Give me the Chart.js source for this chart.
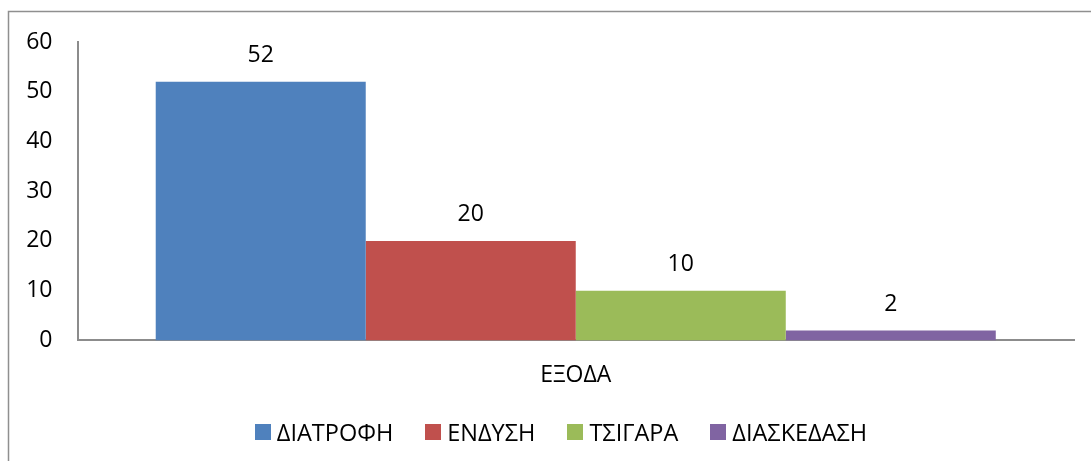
<!DOCTYPE html>
<html>
<head>
<meta charset="utf-8">
<script src="https://cdn.jsdelivr.net/npm/chart.js@4"></script>
<style>
  html, body { margin: 0; padding: 0; background: #fff; overflow: hidden; }
  #wrap { position: relative; width: 1091px; height: 461px; }
</style>
</head>
<body>
<div id="wrap"><canvas id="chart"></canvas></div>
<script>
const categories = ['ΕΞΟΔΑ'];
const seriesNames = ['ΔΙΑΤΡΟΦΗ', 'ΕΝΔΥΣΗ', 'ΤΣΙΓΑΡΑ', 'ΔΙΑΣΚΕΔΑΣΗ'];
const seriesValues = [[52], [20], [10], [2]];
const seriesColors = ['#4F81BD', '#C0504D', '#9BBB59', '#8064A2'];

const FONT = "'Open Sans', 'DejaVu Sans', sans-serif";
const wrap = document.getElementById('wrap');

// frame of the chart (only top and left edges show in the picture)
const framePlugin = {
    id: 'frame',
    beforeDraw(chart) {
        const ctx = chart.ctx;
        ctx.save();
        ctx.strokeStyle = '#8f8f8f';
        ctx.lineWidth = 1.5;
        ctx.beginPath();
        ctx.moveTo(8.5, chart.height + 5);
        ctx.lineTo(8.5, 11.5);
        ctx.lineTo(chart.width + 5, 11.5);
        ctx.stroke();
        ctx.restore();
    }
};

// value labels above bars
const valueLabels = {
    id: 'valueLabels',
    afterDatasetsDraw(chart) {
        const ctx = chart.ctx;
        ctx.save();
        ctx.font = '23px ' + FONT;
        ctx.fillStyle = '#000';
        ctx.textAlign = 'center';
        ctx.textBaseline = 'middle';
        chart.data.datasets.forEach((ds, i) => {
            chart.getDatasetMeta(i).data.forEach((bar, j) => {
                ctx.fillText(ds.data[j], bar.x, bar.y - 26);
            });
        });
        ctx.restore();
    }
};

// legend as html under the plot
const htmlLegend = {
    id: 'htmlLegend',
    afterUpdate(chart) {
        let ul = wrap.querySelector('ul');
        if (!ul) {
            ul = document.createElement('ul');
            ul.style.position = 'absolute';
            ul.style.left = '0';
            ul.style.width = '1122px';
            ul.style.top = '416px';
            ul.style.height = '32px';
            ul.style.margin = '0';
            ul.style.padding = '0';
            ul.style.listStyle = 'none';
            ul.style.display = 'flex';
            ul.style.justifyContent = 'center';
            ul.style.alignItems = 'center';
            wrap.appendChild(ul);
        }
        while (ul.firstChild) ul.firstChild.remove();

        const items = chart.options.plugins.legend.labels.generateLabels(chart);
        items.forEach((item, i) => {
            const li = document.createElement('li');
            li.style.display = 'flex';
            li.style.alignItems = 'center';
            if (i > 0) li.style.marginLeft = '32px';

            const box = document.createElement('span');
            box.style.display = 'inline-block';
            box.style.width = '16px';
            box.style.height = '16px';
            box.style.background = item.fillStyle;
            box.style.marginRight = '6px';

            const text = document.createElement('span');
            text.style.font = '23.5px ' + FONT;
            text.style.color = '#000';
            text.style.lineHeight = '32px';
            text.textContent = item.text;

            li.appendChild(box);
            li.appendChild(text);
            ul.appendChild(li);
        });
    }
};

const config = {
    type: 'bar',
    data: {
        labels: categories,
        datasets: seriesNames.map((name, i) => ({
            label: name,
            data: seriesValues[i],
            backgroundColor: seriesColors[i],
            borderWidth: 0,
            categoryPercentage: 0.843,
            barPercentage: 1
        }))
    },
    plugins: [framePlugin, valueLabels, htmlLegend],
    options: {
        responsive: true,
        maintainAspectRatio: false,
        animation: false,
        layout: {
            padding: {left: 9, right: 17, top: 42, bottom: 51}
        },
        scales: {
            x: {
                grid: {display: false, drawTicks: false},
                border: {display: true, color: '#8c8c8c', width: 2},
                ticks: {
                    color: '#000',
                    padding: 21,
                    font: {family: FONT, size: 23}
                }
            },
            y: {
                min: 0,
                max: 60,
                grid: {display: false, drawTicks: false},
                border: {display: true, color: '#8c8c8c', width: 2},
                ticks: {
                    stepSize: 10,
                    color: '#000',
                    padding: 25,
                    font: {family: FONT, size: 23}
                },
                afterFit(scale) {
                    scale.width = 68.5;
                }
            }
        },
        plugins: {
            tooltip: {enabled: false},
            legend: {display: false}
        }
    }
};

new Chart(document.getElementById('chart'), config);
</script>
</body>
</html>
